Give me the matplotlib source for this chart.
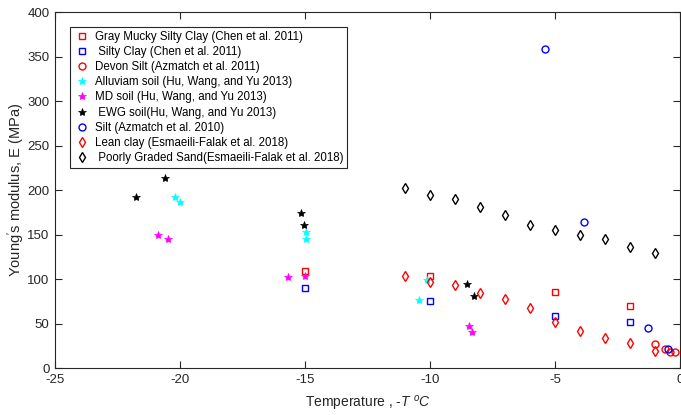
import matplotlib.pyplot as plt

plt.rcParams['font.family'] = ['Liberation Sans', 'DejaVu Sans']
plt.rcParams['mathtext.fontset'] = 'custom'
plt.rcParams['mathtext.it'] = 'Liberation Sans:italic'
plt.rcParams['mathtext.rm'] = 'Liberation Sans'
plt.rcParams['axes.unicode_minus'] = False

ink = '#262626'

# Gray Mucky Silty Clay (Chen et al. 2011)
gm_t = [-15, -10, -5, -2]
gm_e = [109, 104, 85, 70]
# Silty Clay (Chen et al. 2011)
sc_t = [-15, -10, -5, -2]
sc_e = [90, 75, 59, 52]
# Devon Silt (Azmatch et al. 2011)
ds_t = [-1, -0.6, -0.4, -0.2]
ds_e = [27, 22, 18, 18]
# Alluviam soil (Hu, Wang, and Yu 2013)
al_t = [-20.2, -20, -14.95, -14.97, -10.15, -10.45]
al_e = [192, 187, 153, 145, 99, 77]
# MD soil
md_t = [-20.9, -20.5, -15.7, -15.0, -8.45, -8.33]
md_e = [149, 145, 102, 103, 47, 40]
# EWG soil
ew_t = [-21.75, -20.6, -15.15, -15.05, -8.55, -8.25]
ew_e = [192, 214, 174, 161, 95, 81]
# Silt (Azmatch et al. 2010)
si_t = [-5.4, -3.85, -1.3, -0.5]
si_e = [358, 164, 45, 22]
# Lean clay / Poorly Graded Sand (Esmaeili-Falak et al. 2018)
lc_t = [-11, -10, -9, -8, -7, -6, -5, -4, -3, -2, -1]
lc_e = [103, 97, 93, 84, 78, 68, 52, 42, 34, 28, 19]
pg_t = [-11, -10, -9, -8, -7, -6, -5, -4, -3, -2, -1]
pg_e = [202, 195, 190, 181, 172, 161, 155, 150, 145, 136, 129]

fig = plt.figure(figsize=(6.81, 4.15), dpi=100)
ax = fig.add_axes([0.081, 0.113, 0.918, 0.858])

kw = dict(linestyle='none', markersize=5, markerfacecolor='none', markeredgewidth=1.0)
ax.plot(gm_t, gm_e, 's', color='r', label='Gray Mucky Silty Clay (Chen et al. 2011)', **kw)
ax.plot(sc_t, sc_e, 's', color='b', label=' Silty Clay (Chen et al. 2011)', **kw)
ax.plot(ds_t, ds_e, 'o', color='r', label='Devon Silt (Azmatch et al. 2011)', **kw)
star = dict(linestyle='none', markersize=6, markeredgewidth=0.5)
ax.plot(al_t, al_e, '*', color='#00ffff', label='Alluviam soil (Hu, Wang, and Yu 2013)', **star)
ax.plot(md_t, md_e, '*', color='#ff00ff', label='MD soil (Hu, Wang, and Yu 2013)', **star)
ax.plot(ew_t, ew_e, '*', color='k', label=' EWG soil(Hu, Wang, and Yu 2013)', **star)
ax.plot(si_t, si_e, 'o', color='b', label='Silt (Azmatch et al. 2010)', **kw)
ax.plot(lc_t, lc_e, 'd', color='r', label='Lean clay (Esmaeili-Falak et al. 2018)', **kw)
ax.plot(pg_t, pg_e, 'd', color='k', label=' Poorly Graded Sand(Esmaeili-Falak et al. 2018)', **kw)

ax.set_xlim(-25, 0)
ax.set_ylim(0, 400)
ax.set_xticks(range(-25, 1, 5))
ax.set_yticks(range(0, 401, 50))
ax.tick_params(direction='in', top=True, right=True, length=5, width=0.8,
               labelsize=9.5, colors=ink, pad=4)
for s in ax.spines.values():
    s.set_color(ink)
    s.set_linewidth(0.8)

ax.set_xlabel('Temperature , -$\\mathit{T}$ $^{o}\\mathit{C}$', fontsize=10, color=ink, labelpad=6)
ax.set_ylabel("Young$^{\\prime}$s modulus, E (MPa)", fontsize=10.5, color=ink, labelpad=0)

leg = ax.legend(loc='upper left', bbox_to_anchor=(0.024, 0.958), borderaxespad=0,
                fontsize=8.3, fancybox=False, framealpha=1, edgecolor=ink,
                borderpad=0.35, labelspacing=0.27, handletextpad=0.5, handlelength=1.3)
leg.get_frame().set_linewidth(0.8)

fig.savefig('out.png', dpi=100)
